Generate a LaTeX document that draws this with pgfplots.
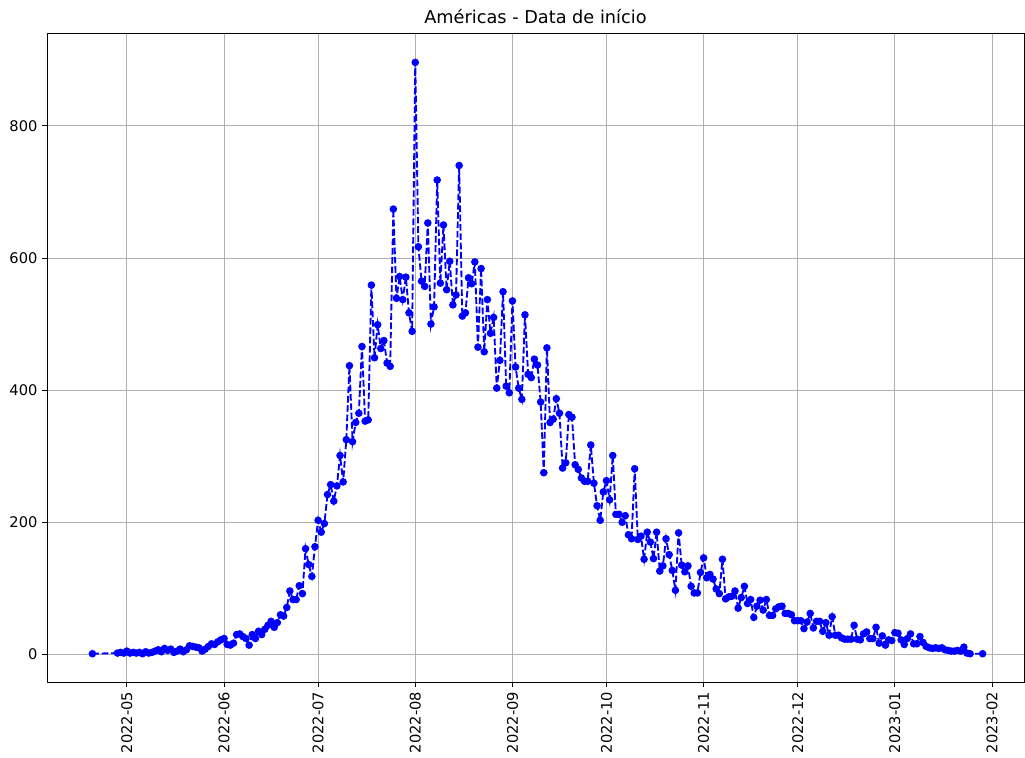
\documentclass[border=0pt]{standalone}
\usepackage{fontspec}
\setmainfont{DejaVu Sans}
\usepackage{pgfplots}
\usepackage{pgfplotstable}
\pgfplotsset{compat=1.18}

% day index: 0 = 2022-05-01
\pgfplotstableread{
d n
-11 1
-3 2
-2 3
-1 2
0 5
1 2
2 3
3 2
4 3
5 1
6 4
7 2
8 3
9 5
10 7
11 4
12 9
13 6
14 8
15 3
16 5
17 8
18 4
19 7
20 13
21 12
22 11
23 10
24 5
25 8
26 12
27 16
28 15
29 19
30 22
31 24
32 15
33 14
34 17
35 30
36 31
37 27
38 24
39 14
40 30
41 24
42 35
43 30
44 38
45 44
46 50
47 41
48 48
49 60
50 58
51 71
52 96
53 83
54 83
55 104
56 92
57 160
58 136
59 118
60 163
61 203
62 185
63 198
64 242
65 257
66 232
67 255
68 301
69 261
70 325
71 437
72 322
73 351
74 365
75 466
76 353
77 355
78 559
79 449
80 499
81 463
82 475
83 441
84 436
85 674
86 539
87 572
88 537
89 571
90 517
91 489
92 896
93 617
94 565
95 557
96 653
97 500
98 526
99 718
100 562
101 650
102 552
103 595
104 529
105 544
106 740
107 512
108 517
109 570
110 561
111 594
112 465
113 584
114 458
115 537
116 486
117 510
118 403
119 445
120 549
121 406
122 396
123 535
124 435
125 403
126 386
127 514
128 424
129 419
130 447
131 438
132 382
133 275
134 464
135 351
136 356
137 387
138 365
139 282
140 290
141 363
142 359
143 287
144 280
145 267
146 262
147 262
148 317
149 259
150 225
151 203
152 246
153 263
154 234
155 301
156 212
157 212
158 200
159 210
160 181
161 175
162 281
163 174
164 179
165 144
166 185
167 170
168 145
169 185
170 126
171 134
172 175
173 151
174 127
175 97
176 184
177 135
178 125
179 134
180 103
181 93
182 93
183 124
184 146
185 116
186 121
187 114
188 99
189 92
190 144
191 84
192 87
193 88
194 96
195 70
196 86
197 103
198 77
199 83
200 56
201 73
202 82
203 67
204 83
205 59
206 59
207 69
208 72
209 73
210 62
211 62
212 60
213 51
214 51
215 51
216 39
217 49
218 62
219 40
220 50
221 50
222 35
223 48
224 29
225 57
226 29
227 29
228 25
229 23
230 23
231 23
232 44
233 23
234 22
235 31
236 34
237 24
238 24
239 41
240 17
241 28
242 14
243 22
244 21
245 33
246 32
247 22
248 15
249 24
250 31
251 16
252 16
253 27
254 18
255 12
256 10
257 9
258 10
259 9
260 10
261 7
262 6
263 5
264 5
265 6
266 5
267 11
268 2
269 1
273 1
}\cases

\begin{document}
\begin{tikzpicture}
\begin{axis}[
  scale only axis,
  width=733.5pt, height=487.5pt,
  xmin=-25.5, xmax=286.2,
  ymin=-42.3, ymax=940.6,
  axis line style={black, line width=0.6pt},
  xtick={0,31,61,92,123,153,184,214,245,276},
  xticklabels={2022-05,2022-06,2022-07,2022-08,2022-09,2022-10,2022-11,2022-12,2023-01,2023-02},
  ytick={0,200,400,600,800},
  tick align=outside,
  tick pos=left,
  major tick length=3.6pt,
  tick style={black, line width=0.6pt},
  grid=major,
  major grid style={color=black!31, line width=0.6pt},
  xticklabel style={rotate=90, anchor=east, font=\fontsize{11}{13}\selectfont},
  yticklabel style={font=\fontsize{11}{13}\selectfont},
  /pgf/number format/assume math mode=true,
  title={Américas - Data de início},
  title style={at={(0.5,1)}, anchor=base, yshift=1pt, font=\fontsize{13.3}{16}\selectfont},
]
\addplot[color=blue, line width=1.4pt, dash pattern=on 5pt off 2pt,
  mark=*, mark size=2.1pt, mark options={solid, fill=blue, draw=blue}]
  table[x=d, y=n] {\cases};
\coordinate (bl) at (rel axis cs:0,0);
\coordinate (tr) at (rel axis cs:1,1);
\end{axis}
\pgfresetboundingbox
\path[use as bounding box] ([xshift=-35.25pt,yshift=-56.25pt]bl) rectangle ([xshift=0.75pt,yshift=24.75pt]tr);
\end{tikzpicture}
\end{document}
